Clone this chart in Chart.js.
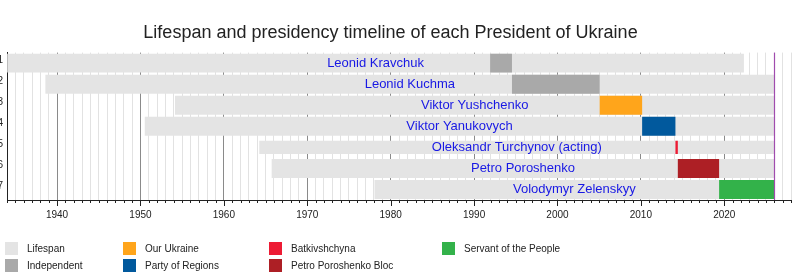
<!DOCTYPE html>
<html>
<head>
<meta charset="utf-8">
<script src="https://cdn.jsdelivr.net/npm/chart.js@4.4.1/dist/chart.umd.min.js"></script>
<style>
  html, body { margin: 0; padding: 0; background: #fff; overflow: hidden; }
  body { width: 800px; height: 280px; position: relative; font-family: "Liberation Sans", Arial, sans-serif; }
  #wrap { position: absolute; left: -10px; top: 0; width: 810px; height: 232px; }
  #legend { position: absolute; left: 0; top: 0; width: 800px; height: 280px; pointer-events: none; }
  .item { position: absolute; font-size: 10px; line-height: 13px; color: #222; white-space: nowrap; }
  .sw { position: absolute; width: 13px; height: 13px; }
</style>
</head>
<body>
<div id="wrap"><canvas id="chart" width="810" height="232"></canvas></div>
<div id="legend"></div>
<script>
// Presidents of Ukraine, in order of office
const presidents = [
  'Leonid Kravchuk', 'Leonid Kuchma', 'Viktor Yushchenko', 'Viktor Yanukovych',
  'Oleksandr Turchynov (acting)', 'Petro Poroshenko', 'Volodymyr Zelenskyy'
];
const rowLabels = ['1', '2', '3', '4', '5', '6', '7'];
const born = ['1934-01-10', '1938-08-09', '1954-02-23', '1950-07-09', '1964-03-31', '1965-09-26', '1978-01-25'];
const died = ['2022-05-10', null, null, null, null, null, null];
const termStart = ['1991-12-05', '1994-07-19', '2005-01-23', '2010-02-25', '2014-02-23', '2014-06-07', '2019-05-20'];
const termEnd = ['1994-07-19', '2005-01-23', '2010-02-25', '2014-02-22', '2014-06-07', '2019-05-20', null];
const termParty = ['Independent', 'Independent', 'Our Ukraine', 'Party of Regions', 'Batkivshchyna',
  'Petro Poroshenko Bloc', 'Servant of the People'];
const acting = [false, false, false, false, true, false, false];
const today = '2026-01-01';

// Axis range (years)
const axisStart = 1934;
const axisEnd = 2028;

// Legend entries and colours
const legendNames = ['Lifespan', 'Independent', 'Our Ukraine', 'Party of Regions', 'Batkivshchyna',
  'Petro Poroshenko Bloc', 'Servant of the People'];
const legendColors = ['#e4e4e4', '#a9a9a9', '#ffa51b', '#01599d', '#ed1b34', '#ad1f25', '#33b24a'];
const nowColor = '#a04cae';

// date string -> fractional year
function yearOf(s) {
  const d = new Date(s + 'T00:00:00Z');
  const y = d.getUTCFullYear();
  const start = Date.UTC(y, 0, 1), end = Date.UTC(y + 1, 0, 1);
  return y + (d.getTime() - start) / (end - start);
}
const nowYear = yearOf(today);
const colorOf = name => legendColors[legendNames.indexOf(name)];

const lifeSpan = presidents.map((_, i) => [yearOf(born[i]), died[i] ? yearOf(died[i]) : nowYear]);
const termSpan = presidents.map((_, i) => [yearOf(termStart[i]), termEnd[i] ? yearOf(termEnd[i]) : nowYear]);

const FULL = 0.9, THIN = 0.62;
const datasets = [];
// lifespan bars (drawn underneath): full height for presidents, thinner for acting
[false, true].forEach(isActing => {
  datasets.push({
    label: 'Lifespan',
    data: lifeSpan.map((v, i) => acting[i] === isActing ? v : null),
    backgroundColor: colorOf('Lifespan'),
    barPercentage: isActing ? THIN : FULL,
    order: 2
  });
});
// presidency bars grouped by party (drawn on top)
legendNames.slice(1).forEach(party => {
  [false, true].forEach(isActing => {
    const data = termSpan.map((v, i) => (termParty[i] === party && acting[i] === isActing) ? v : null);
    if (data.some(v => v)) {
      datasets.push({
        label: party,
        data,
        backgroundColor: colorOf(party),
        barPercentage: isActing ? THIN : FULL,
        order: 1
      });
    }
  });
});

const overlay = {
  id: 'overlay',
  afterDatasetsDraw(chart) {
    const ctx = chart.ctx, x = chart.scales.x, y = chart.scales.y, area = chart.chartArea;
    ctx.save();
    // names over the middle of each lifespan
    ctx.font = '13px "Liberation Sans", Arial, sans-serif';
    ctx.fillStyle = '#1818e4';
    ctx.textAlign = 'center';
    ctx.textBaseline = 'middle';
    presidents.forEach((name, i) => {
      const mid = (lifeSpan[i][0] + lifeSpan[i][1]) / 2;
      ctx.fillText(name, x.getPixelForValue(mid), y.getPixelForValue(i));
    });
    // current date marker
    const nx = Math.round(x.getPixelForValue(nowYear)) + 0.5;
    ctx.strokeStyle = nowColor;
    ctx.lineWidth = 1.2;
    ctx.beginPath();
    ctx.moveTo(nx, area.top);
    ctx.lineTo(nx, area.bottom);
    ctx.stroke();
    // yearly tick marks, longer at decades
    ctx.strokeStyle = '#222';
    ctx.lineWidth = 1;
    ctx.beginPath();
    for (let yr = axisStart; yr <= axisEnd; yr++) {
      const px = Math.round(x.getPixelForValue(yr)) + 0.5;
      ctx.moveTo(px, area.bottom);
      ctx.lineTo(px, area.bottom + (yr % 10 === 0 ? 6 : 3));
    }
    ctx.stroke();
    ctx.restore();
  }
};

Chart.defaults.font.family = '"Liberation Sans", Arial, sans-serif';

new Chart(document.getElementById('chart'), {
  type: 'bar',
  data: { labels: rowLabels, datasets },
  options: {
    indexAxis: 'y',
    responsive: false,
    animation: false,
    devicePixelRatio: 1,
    layout: { padding: { right: 9, left: 0, top: 0, bottom: 0 } },
    datasets: { bar: { grouped: false, categoryPercentage: 1 } },
    plugins: {
      legend: { display: false },
      tooltip: { enabled: false },
      title: {
        display: true,
        text: 'Lifespan and presidency timeline of each President of Ukraine',
        color: '#222',
        font: { size: 18, weight: 'normal' },
        padding: { top: 22, bottom: 9 }
      }
    },
    scales: {
      x: {
        type: 'linear',
        min: axisStart,
        max: axisEnd,
        afterFit: s => { s.height = 32; },
        border: { color: '#222', width: 1 },
        grid: {
          drawTicks: false,
          color: c => (c.tick && c.tick.value % 10 === 0) ? '#8a8a8a' : '#e2e2e2'
        },
        ticks: {
          stepSize: 1,
          autoSkip: false,
          maxRotation: 0,
          padding: 9,
          color: '#222',
          font: { size: 10 },
          callback: v => (v % 10 === 0 ? String(v) : '')
        }
      },
      y: {
        afterFit: s => { s.width = 17; },
        border: { color: '#222', width: 1 },
        grid: { display: false, drawTicks: false },
        ticks: { padding: 4, labelOffset: -3, color: '#222', font: { size: 10 } }
      }
    }
  },
  plugins: [overlay]
});

// legend: column-major, two rows
const colLeft = [5, 123, 269, 442];
const rowTop = [242, 259];
const legend = document.getElementById('legend');
legendNames.forEach((name, i) => {
  const col = Math.floor(i / 2), row = i % 2;
  const sw = document.createElement('div');
  sw.className = 'sw';
  sw.style.left = colLeft[col] + 'px';
  sw.style.top = rowTop[row] + 'px';
  sw.style.background = legendColors[i];
  legend.appendChild(sw);
  const t = document.createElement('div');
  t.className = 'item';
  t.style.left = (colLeft[col] + 22) + 'px';
  t.style.top = rowTop[row] + 'px';
  t.textContent = name;
  legend.appendChild(t);
});
</script>
</body>
</html>
